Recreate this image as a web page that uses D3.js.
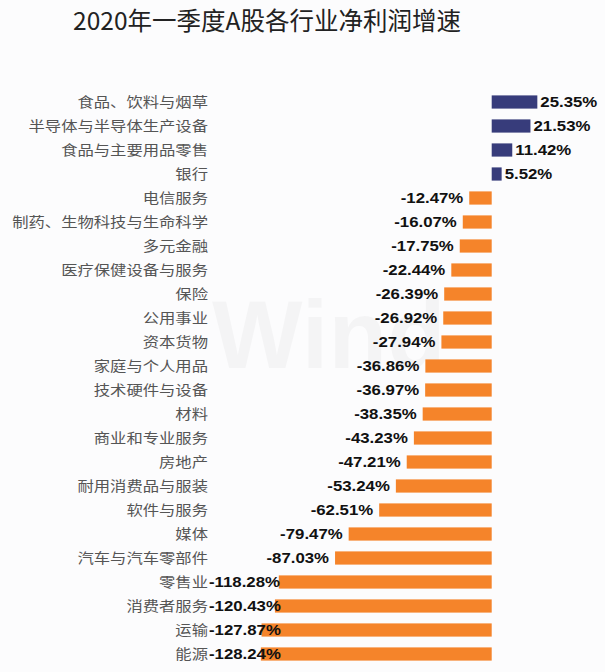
<!DOCTYPE html>
<html><head><meta charset="utf-8">
<script src="https://cdn.jsdelivr.net/npm/d3@7"></script>
<style>body{margin:0;background:#fcfcfd;}svg{display:block;}</style>
</head><body>
<script>
const title = "2020年一季度A股各行业净利润增速";
const categories = ["食品、饮料与烟草","半导体与半导体生产设备","食品与主要用品零售","银行","电信服务","制药、生物科技与生命科学","多元金融","医疗保健设备与服务","保险","公用事业","资本货物","家庭与个人用品","技术硬件与设备","材料","商业和专业服务","房地产","耐用消费品与服装","软件与服务","媒体","汽车与汽车零部件","零售业","消费者服务","运输","能源"];
const values = [25.35,21.53,11.42,5.52,-12.47,-16.07,-17.75,-22.44,-26.39,-26.92,-27.94,-36.86,-36.97,-38.35,-43.23,-47.21,-53.24,-62.51,-79.47,-87.03,-118.28,-120.43,-127.87,-128.24];
const valueLabels = values.map(v => v.toFixed(2) + "%");

const W = 605, H = 672;
const svg = d3.select("body").append("svg").attr("width", W).attr("height", H);
svg.append("rect").attr("width", W).attr("height", H).attr("fill", "#fcfcfd");

svg.append("text").attr("x", 267).attr("y", 30).attr("text-anchor", "middle")
  .attr("font-family", "'Noto Sans CJK SC', sans-serif").attr("font-size", 24.5)
  .attr("fill", "#222").text(title);

// watermark
svg.append("text").attr("x", 212).attr("y", 368)
  .attr("font-family", "'Liberation Sans', Arial, sans-serif").attr("font-weight", "bold")
  .attr("font-size", 96).attr("fill", "#000").attr("fill-opacity", 0.03).text("Wind");

const x = d3.scaleLinear().domain([-130, 30]).range([257.7, 545.7]);
const y = d3.scaleBand().domain(categories).range([90, 666]).paddingInner(0.45).paddingOuter(0.225);

const rows = categories.map((c, i) => ({c, v: values[i], label: valueLabels[i]}));

svg.append("g").selectAll("rect").data(rows).join("rect")
  .attr("x", d => x(Math.min(0, d.v)))
  .attr("width", d => Math.abs(x(d.v) - x(0)))
  .attr("y", d => y(d.c)).attr("height", y.bandwidth())
  .attr("fill", d => d.v >= 0 ? "#373c7b" : "#f5842a");

const catRight = 208;
const sx = 1.21;
svg.append("g").selectAll("g").data(rows).join("g")
  .attr("transform", d => `translate(${catRight},${y(d.c) + y.bandwidth()/2 + 5}) scale(${sx},1)`)
  .append("text").attr("text-anchor", "end")
  .attr("font-family", "'Noto Sans CJK SC', sans-serif").attr("font-size", 13.5)
  .attr("fill", "#555").text(d => d.c);

const vsx = 1.2;
const vg = svg.append("g").selectAll("g").data(rows).join("g");
vg.each(function(d) {
  const g = d3.select(this);
  const t = g.append("text")
    .attr("font-family", "'Liberation Sans', Arial, sans-serif").attr("font-weight", "bold")
    .attr("font-size", 14).attr("fill", "#111").text(d.label);
  const w = t.node().getComputedTextLength() * vsx;
  const cy = y(d.c) + y.bandwidth()/2 + 5;
  let px, anchor;
  if (d.v >= 0) { px = x(d.v) + 3; anchor = "start"; }
  else {
    const endX = x(d.v) - 6;
    if (endX - w < catRight + 1) { px = catRight + 1; anchor = "start"; }
    else { px = endX; anchor = "end"; }
  }
  t.attr("text-anchor", anchor);
  g.attr("transform", `translate(${px},${cy}) scale(${vsx},1)`);
});
</script>
</body></html>
